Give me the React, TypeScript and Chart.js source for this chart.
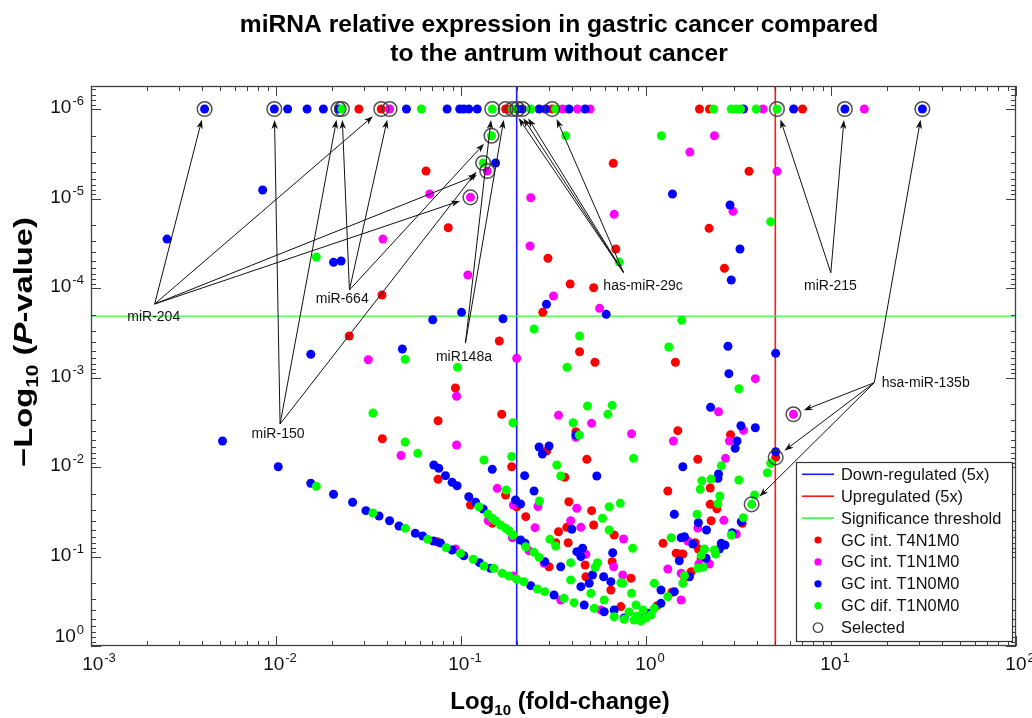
import React, { useEffect, useRef } from "react";
import { Chart, registerables } from "chart.js";

Chart.register(...registerables);

const FONT = '"Liberation Sans", Arial, Helvetica, sans-serif';

// Axis ranges (fold-change, P-value)
const X_MIN = 1e-3;
const X_MAX = 1e2;
const Y_MIN = 5.53e-7;
const Y_MAX = 1;

const DOWN_THRESHOLD = 0.2;
const UP_THRESHOLD = 5;
const SIG_THRESHOLD = 2.06e-4;

const xTickExponents = [-3, -2, -1, 0, 1, 2];
const yTickExponents = [-6, -5, -4, -3, -2, -1, 0];

const titleLines = [
  "miRNA relative expression in gastric cancer compared",
  "to the antrum without cancer",
];

// Each point: [log10(fold-change), log10(P-value)]
const t4n1m0Points: [number, number][] = [
  [-1.552, -6], [-1.431, -6], [-0.759, -6], [-0.741, -6], [-0.507, -6], [0.289, -6], [0.343, -6], [0.846, -6],
  [-1.189, -5.307], [-1.069, -4.674], [-0.53, -4.332], [-1.427, -3.922], [-0.558, -3.728], [-1.604, -3.464],
  [-0.793, -3.408], [-1.03, -2.883], [-1.124, -2.517], [-0.78, -2.589], [-1.425, -2.316], [-0.537, -2.179],
  [-1.129, -1.165], [-1.124, -1.863], [-0.949, -1.575], [-0.831, -1.371], [-0.726, -2.003], [-0.759, -1.687],
  [-0.699, -1.556], [-0.65, -1.445], [-0.524, -0.886], [-0.177, -5.393], [0.557, -5.304], [0.341, -4.667],
  [-0.163, -4.436], [0.424, -4.22], [-0.41, -4.045], [-0.283, -4.003], [-0.359, -3.288], [-0.276, -3.17],
  [0.159, -3.17], [0.172, -2.406], [0.457, -2.361], [-0.379, -2.394], [-0.32, -2.086], [0.28, -2.086],
  [-0.439, -1.885], [-0.417, -1.612], [-0.294, -1.512], [-0.428, -1.326], [-0.473, -1.277], [-0.283, -1.352],
  [-0.172, -1.24], [-0.488, -1.154], [-0.421, -1.154], [-0.329, -0.905], [-0.325, -0.774], [-0.183, -0.942],
  [-0.081, -0.757], [-0.19, -0.626], [0.118, -1.732], [0.347, -1.765], [0.347, -1.583], [0.383, -1.534],
  [0.352, -1.4], [0.52, -1.371], [0.092, -1.147], [0.266, -1.154], [0.163, -1.036], [0.18, -1.028],
  [0.199, -1.028], [0.283, -1.084], [0.298, -0.98], [0.701, -2.108], [-0.136, -0.44], [0.06, -0.45],
  [0.14, -0.6], [0.208, -0.774], [0.244, -0.83],
];

const t1n1m0Points: [number, number][] = [
  [-1.386, -6], [-0.451, -6], [-0.37, -6], [-0.302, -6], [0.633, -6], [1.18, -6],
  [-1.169, -5.05], [-0.623, -5.009], [-1.422, -4.547], [-0.627, -4.469], [-0.963, -4.145], [-1.501, -3.199],
  [-0.699, -3.214], [-1.024, -2.79], [-1.024, -2.246], [-1.324, -2.128], [0.37, -5.702], [0.237, -5.519],
  [0.708, -5.304], [-0.172, -4.823], [0.47, -4.857], [-0.5, -3.911], [-0.251, -3.773], [0.591, -2.987],
  [0.392, -2.618], [-0.473, -2.578], [-0.294, -2.488], [0.527, -2.41], [-0.379, -2.332], [-0.078, -2.372],
  [0.148, -2.291], [0.451, -2.291], [0.43, -2.097], [-0.804, -1.762], [-0.717, -1.575], [-0.584, -1.559],
  [-0.6, -1.322], [-0.374, -1.539], [-0.407, -1.4], [-0.352, -1.326], [-0.325, -1.025], [-0.175, -0.886],
  [-0.126, -0.793], [-0.121, -1.196], [0.421, -1.404], [0.28, -1.318], [0.488, -1.251], [0.226, -1.173],
  [0.286, -0.916], [0.343, -0.916], [0.118, -0.86], [0.19, -0.812], [-0.853, -1.4], [-0.722, -1.21],
  [-0.633, -1.065], [-0.551, -0.924], [-0.717, -0.782], [-1.03, -1.084], [0.797, -2.589], [-0.858, -5.307],
  [-0.949, -5.013], [-0.461, -0.514], [-0.244, -0.402], [-0.027, -0.313], [0.19, -0.514],
];

const t1n0m0Points: [number, number][] = [
  [-2.386, -6], [-2.009, -6], [-1.937, -6], [-1.832, -6], [-1.744, -6], [-1.662, -6], [-1.295, -6],
  [-1.075, -6], [-1.007, -6], [-0.985, -6], [-0.958, -6], [-0.912, -6], [-0.695, -6], [-0.668, -6],
  [-0.578, -6], [-0.542, -6], [-0.416, -6], [-0.329, -6], [0.527, -6], [0.798, -6], [1.075, -6], [1.494, -6],
  [-0.813, -5.397], [-2.072, -5.095], [-2.589, -4.547], [-1.689, -4.287], [-1.648, -4.302], [-0.997, -3.728],
  [-0.538, -3.818], [-1.153, -3.646], [-0.773, -3.657], [-1.317, -3.318], [-1.812, -3.259], [-2.289, -2.291],
  [-1.988, -2.003], [-0.578, -2.223], [-0.56, -2.145], [-0.524, -2.235], [-0.831, -1.974], [-0.656, -1.903],
  [-0.605, -1.732], [-0.705, -1.631], [-0.678, -1.587], [0.143, -5.05], [0.454, -4.927], [0.508, -4.436],
  [0.461, -4.089], [-0.215, -3.706], [0.443, -3.349], [0.701, -3.27], [0.448, -3.043], [0.349, -2.667],
  [0.513, -2.461], [0.591, -2.439], [-0.379, -2.357], [0.492, -2.291], [0.482, -2.209], [0.701, -2.171],
  [-0.266, -1.899], [0.199, -2.003], [0.392, -1.922], [0.389, -1.874], [0.153, -1.472], [0.283, -1.378],
  [0.327, -1.296], [0.466, -1.266], [0.19, -1.21], [0.208, -1.221], [0.253, -1.14], [0.427, -1.128],
  [0.397, -1.084], [0.18, -0.953], [0.081, -0.626], [-0.401, -1.304], [-0.343, -1.092], [-0.374, -1.054],
  [-0.352, -0.998], [-0.18, -1.042], [-0.229, -0.774], [-0.289, -0.793], [-0.307, -0.701], [-0.19, -0.719],
  [-1.812, -1.818], [-1.689, -1.695], [-1.586, -1.606], [-1.514, -1.512], [-1.443, -1.453], [-1.386, -1.4],
  [-1.335, -1.341], [-1.247, -1.259], [-1.207, -1.229], [-1.149, -1.173], [-1.111, -1.151], [-1.048, -1.073],
  [-0.985, -1.009], [-0.9, -0.931], [-0.84, -0.868], [-0.623, -0.674], [-0.497, -0.57], [-0.334, -0.458],
  [-0.226, -0.383], [-0.118, -0.313],
  [-1.147, -2.022], [-1.12, -1.985], [-1.084, -1.903], [-1.048, -1.829], [-1.021, -1.791], [-0.958, -1.668],
  [-0.921, -1.606], [-0.88, -1.531], [-0.678, -1.184], [-0.654, -1.148], [-0.547, -0.942], [-0.461, -0.886],
  [-0.352, -0.663], [-0.172, -0.402],
  [0.009, -0.365], [0.081, -0.477], [0.153, -0.607], [0.235, -0.774], [0.325, -0.98], [0.407, -1.147],
  [0.515, -1.389],
];

const difT1n0m0Points: [number, number][] = [
  [-1.644, -6], [-1.214, -6], [-0.831, -6], [-0.722, -6], [-0.623, -6], [-0.488, -6], [0.365, -6], [0.461, -6],
  [0.488, -6], [0.511, -6], [0.596, -6], [0.708, -6],
  [-0.835, -5.702], [-0.88, -5.397], [-1.782, -4.346], [-0.605, -3.542], [-1.302, -3.203], [-1.019, -3.114],
  [-1.476, -2.603], [-0.719, -2.495], [-1.302, -2.279], [-1.234, -2.153], [-0.876, -2.078], [-0.726, -2.117],
  [-0.434, -5.702], [0.083, -5.702], [-0.145, -4.29], [0.674, -4.741], [0.193, -3.639], [-0.359, -3.464],
  [0.123, -3.341], [-0.427, -3.114], [0.502, -2.875], [-0.316, -2.682], [-0.183, -2.689], [-0.206, -2.589],
  [-0.394, -2.495], [-0.361, -2.357], [-0.067, -2.097], [-0.482, -2.022], [-0.461, -1.899], [-0.755, -1.743],
  [-0.576, -1.62], [-0.199, -1.556], [-0.139, -1.594], [-0.235, -1.427], [-0.199, -1.296], [-0.072, -1.092],
  [-0.519, -1.192], [-0.488, -1.117], [-0.407, -0.931], [-0.262, -0.931], [-0.275, -0.879], [-0.126, -0.701],
  [-0.078, -0.589], [0.656, -1.936], [0.674, -2.041], [0.407, -2.015], [0.302, -1.847], [0.352, -1.866],
  [0.502, -1.855], [0.293, -1.751], [0.399, -1.676], [0.389, -1.59], [0.276, -1.472], [0.526, -1.434],
  [0.461, -1.24], [0.136, -1.21], [0.316, -1.084], [0.298, -1.013], [0.376, -1.028], [0.309, -0.879],
  [0.208, -0.785], [0.045, -0.701], [-0.136, -0.707], [0.571, -1.583], [0.587, -1.687],
  [-1.782, -1.784], [-1.476, -1.486], [-1.301, -1.315], [-1.18, -1.192], [-1.08, -1.098], [-1.003, -1.036],
  [-0.934, -0.969], [-0.876, -0.894], [-0.822, -0.868], [-0.777, -0.812], [-0.741, -0.782], [-0.699, -0.745],
  [-0.66, -0.718], [-0.587, -0.637], [-0.547, -0.607], [-0.443, -0.533], [-0.389, -0.484], [-0.28, -0.421],
  [-0.172, -0.327], [-0.118, -0.298], [-0.065, -0.291], [-0.027, -0.279],
  [-0.904, -1.556], [-0.855, -1.475], [-0.831, -1.427], [-0.813, -1.4], [-0.786, -1.352], [-0.759, -1.315],
  [-0.741, -1.288], [-0.719, -1.24], [-0.65, -1.109], [-0.605, -1.047], [-0.578, -0.991], [-0.407, -0.737],
  [-0.298, -0.589], [-0.226, -0.514],
  [0.045, -0.421], [0.118, -0.551], [0.199, -0.701], [0.28, -0.868], [0.37, -1.073], [0.027, -0.346],
  [0.0, -0.313], [-0.049, -0.335], [-0.092, -0.38], [-0.054, -0.458], [-0.016, -0.402],
];

const selectedPoints: [number, number][] = [
  [-2.386, -6], [-2.009, -6], [-1.662, -6], [-1.644, -6], [-1.431, -6], [-1.386, -6], [-0.831, -6],
  [-0.759, -6], [-0.722, -6], [-0.695, -6], [-0.668, -6], [-0.507, -6], [0.708, -6], [1.075, -6], [1.494, -6],
  [-0.835, -5.702], [-0.88, -5.397], [-0.858, -5.307], [-0.949, -5.013], [0.797, -2.589], [0.701, -2.108],
  [0.571, -1.583],
];

// Annotations: label, anchor (where arrows start), label centre, arrow targets (all in log10 units)
const annotationLabels = ["miR-204", "miR-664", "miR-150", "miR148a", "has-miR-29c", "miR-215", "hsa-miR-135b"];
const annotationAnchors: [number, number][] = [
  [-2.656, -3.821], [-1.603, -3.978], [-1.978, -2.48], [-0.976, -3.385], [-0.121, -4.171], [0.999, -4.171], [1.234, -2.942],
];
const annotationTextPos: [number, number][] = [
  [-2.661, -3.679], [-1.642, -3.877], [-1.989, -2.369], [-0.984, -3.232], [-0.016, -4.022], [0.997, -4.022], [1.512, -2.935],
];
const annotationTargets: [number, number][][] = [
  [[-2.386, -6], [-1.431, -6], [-0.858, -5.307], [-0.949, -5.013]],
  [[-1.644, -6], [-1.386, -6], [-0.835, -5.702]],
  [[-2.009, -6], [-1.662, -6], [-0.88, -5.397]],
  [[-0.831, -6], [-0.759, -6]],
  [[-0.722, -6], [-0.695, -6], [-0.668, -6], [-0.507, -6]],
  [[0.708, -6], [1.075, -6]],
  [[1.494, -6], [0.797, -2.589], [0.701, -2.108], [0.571, -1.583]],
];

const seriesLabels = ["GC int. T4N1M0", "GC int. T1N1M0", "GC int. T1N0M0", "GC dif. T1N0M0"];
const seriesColors = ["#ff0000", "#ff00ff", "#0000ff", "#00ff00"];
const lineLegend = [
  { label: "Down-regulated (5x)", color: "#1a1aff" },
  { label: "Upregulated (5x)", color: "#ff1a1a" },
  { label: "Significance threshold", color: "#33ff33" },
];

const toXY = (p: [number, number]) => ({ x: Math.pow(10, p[0]), y: Math.pow(10, p[1]) });

function drawPower(ctx: CanvasRenderingContext2D, exp: number, x: number, baseline: number, align: "center" | "right") {
  const base = "10";
  const sup = String(exp);
  ctx.font = `19px ${FONT}`;
  const wb = ctx.measureText(base).width;
  ctx.font = `13px ${FONT}`;
  const we = ctx.measureText(sup).width;
  const total = wb + 1 + we;
  const left = align === "center" ? x - total / 2 : x - total;
  ctx.textAlign = "left";
  ctx.textBaseline = "alphabetic";
  ctx.font = `19px ${FONT}`;
  ctx.fillText(base, left, baseline);
  ctx.font = `13px ${FONT}`;
  ctx.fillText(sup, left + wb + 1, baseline - 8);
}

type Piece = { t: string; font: string; dy: number };
function drawPieces(ctx: CanvasRenderingContext2D, pieces: Piece[], cx: number, baseline: number, targetWidth?: number) {
  let total = 0;
  const widths = pieces.map((p) => {
    ctx.font = p.font;
    const w = ctx.measureText(p.t).width;
    total += w;
    return w;
  });
  ctx.save();
  ctx.translate(cx, baseline);
  if (targetWidth) ctx.scale(targetWidth / total, 1);
  let x = -total / 2;
  ctx.textAlign = "left";
  ctx.textBaseline = "alphabetic";
  pieces.forEach((p, i) => {
    ctx.font = p.font;
    ctx.fillText(p.t, x, p.dy);
    x += widths[i];
  });
  ctx.restore();
}

const decorPlugin = {
  id: "volcanoDecor",
  beforeDatasetsDraw(chart: any) {
    const { ctx, chartArea: a, scales } = chart;
    const xs = scales.x;
    const ys = scales.y;
    ctx.save();
    ctx.beginPath();
    ctx.rect(a.left, a.top, a.right - a.left, a.bottom - a.top);
    ctx.clip();
    ctx.globalAlpha = 1;
    ctx.globalCompositeOperation = "source-over";
    ctx.setLineDash([]);
    ctx.lineWidth = 1.6;
    const xd = xs.getPixelForValue(DOWN_THRESHOLD);
    const xu = xs.getPixelForValue(UP_THRESHOLD);
    const ysig = ys.getPixelForValue(SIG_THRESHOLD);
    ctx.strokeStyle = lineLegend[0].color;
    ctx.beginPath(); ctx.moveTo(xd, a.top); ctx.lineTo(xd, a.bottom); ctx.stroke();
    ctx.strokeStyle = lineLegend[1].color;
    ctx.beginPath(); ctx.moveTo(xu, a.top); ctx.lineTo(xu, a.bottom); ctx.stroke();
    ctx.strokeStyle = lineLegend[2].color;
    ctx.lineWidth = 1.3;
    ctx.beginPath(); ctx.moveTo(a.left, ysig); ctx.lineTo(a.right, ysig); ctx.stroke();
    ctx.restore();
  },
  afterDatasetsDraw(chart: any) {
    const { ctx, chartArea: a, scales } = chart;
    const xs = scales.x;
    const ys = scales.y;
    const px = (v: number) => xs.getPixelForValue(Math.pow(10, v));
    const py = (v: number) => ys.getPixelForValue(Math.pow(10, v));
    ctx.save();

    // Annotations with arrows
    ctx.strokeStyle = "#111";
    ctx.fillStyle = "#111";
    ctx.lineWidth = 1;
    annotationAnchors.forEach((an, i) => {
      const ax = px(an[0]);
      const ay = py(an[1]);
      annotationTargets[i].forEach((t) => {
        const tx = px(t[0]);
        const ty = py(t[1]);
        const dx = tx - ax;
        const dy = ty - ay;
        const len = Math.hypot(dx, dy);
        const ux = dx / len;
        const uy = dy / len;
        const ex = tx - ux * 11;
        const ey = ty - uy * 11;
        ctx.beginPath();
        ctx.moveTo(ax, ay);
        ctx.lineTo(ex - ux * 4, ey - uy * 4);
        ctx.stroke();
        const bx = ex - ux * 9;
        const by = ey - uy * 9;
        ctx.beginPath();
        ctx.moveTo(ex, ey);
        ctx.lineTo(bx - uy * 3.2, by + ux * 3.2);
        ctx.lineTo(ex - ux * 6.5, ey - uy * 6.5);
        ctx.lineTo(bx + uy * 3.2, by - ux * 3.2);
        ctx.closePath();
        ctx.fill();
      });
      const lp = annotationTextPos[i];
      ctx.font = `14px ${FONT}`;
      ctx.textAlign = "center";
      ctx.textBaseline = "middle";
      ctx.fillText(annotationLabels[i], px(lp[0]), py(lp[1]));
    });

    // Frame with inward ticks
    ctx.strokeStyle = "#404040";
    ctx.lineWidth = 1.3;
    ctx.strokeRect(a.left + 0.5, a.top + 0.5, a.right - a.left - 1, a.bottom - a.top - 1);
    ctx.lineWidth = 1;
    ctx.beginPath();
    for (let d = -7; d <= 2; d++) {
      for (let m = 1; m <= 9; m++) {
        const v = m * Math.pow(10, d);
        if (v >= X_MIN * 0.999 && v <= X_MAX * 1.001) {
          const x = Math.round(xs.getPixelForValue(v)) + 0.5;
          const L = m === 1 ? 10 : 5;
          ctx.moveTo(x, a.bottom); ctx.lineTo(x, a.bottom - L);
          ctx.moveTo(x, a.top); ctx.lineTo(x, a.top + L);
        }
        if (v >= Y_MIN && v <= Y_MAX * 1.001) {
          const y = Math.round(ys.getPixelForValue(v)) + 0.5;
          const L = m === 1 ? 10 : 5;
          ctx.moveTo(a.left, y); ctx.lineTo(a.left + L, y);
          ctx.moveTo(a.right, y); ctx.lineTo(a.right - L, y);
        }
      }
    }
    ctx.stroke();

    // Legend box
    const lx = 796, ly = 462, lw = 216, lh = 179;
    ctx.fillStyle = "#ffffff";
    ctx.fillRect(lx, ly, lw, lh);
    ctx.strokeStyle = "#333";
    ctx.lineWidth = 1.2;
    ctx.strokeRect(lx + 0.5, ly + 0.5, lw, lh);
    const rowY = (k: number) => 474.3 + k * 21.9;
    ctx.font = `16.4px ${FONT}`;
    ctx.textAlign = "left";
    ctx.textBaseline = "middle";
    lineLegend.forEach((l, k) => {
      const y = rowY(k);
      ctx.strokeStyle = l.color;
      ctx.lineWidth = 1.6;
      ctx.beginPath(); ctx.moveTo(802, y); ctx.lineTo(834, y); ctx.stroke();
      ctx.fillStyle = "#111";
      ctx.fillText(l.label, 841, rowY(k) + 1);
    });
    seriesLabels.forEach((s, k) => {
      const y = rowY(k + 3);
      ctx.fillStyle = seriesColors[k];
      ctx.beginPath(); ctx.arc(818, y, 3.6, 0, Math.PI * 2); ctx.fill();
      ctx.fillStyle = "#111";
      ctx.fillText(s, 841, y + 1);
    });
    {
      const y = rowY(7);
      ctx.strokeStyle = "#444";
      ctx.lineWidth = 1.3;
      ctx.beginPath(); ctx.arc(818, y, 4.8, 0, Math.PI * 2); ctx.stroke();
      ctx.fillStyle = "#111";
      ctx.fillText("Selected", 841, y + 1);
    }

    // Tick labels
    ctx.fillStyle = "#111";
    xTickExponents.forEach((e) => {
      const x = xs.getPixelForValue(Math.pow(10, e));
      drawPower(ctx, e, e === -3 ? x + 8 : x + 4, 670, "center");
    });
    yTickExponents.forEach((e) => {
      const y = ys.getPixelForValue(Math.pow(10, e));
      drawPower(ctx, e, 84, e === 0 ? y - 4 : y + 4, "right");
    });

    // Title
    ctx.fillStyle = "#000";
    ctx.font = `bold 24.6px ${FONT}`;
    ctx.textAlign = "center";
    ctx.textBaseline = "alphabetic";
    ctx.fillText(titleLines[0], 559, 32);
    ctx.fillText(titleLines[1], 559, 61);

    // X axis title
    const B = `bold 24px ${FONT}`;
    const S = `bold 15px ${FONT}`;
    drawPieces(ctx, [
      { t: "Log", font: B, dy: 0 },
      { t: "10", font: S, dy: 6 },
      { t: " (fold-change)", font: B, dy: 0 },
    ], 560, 709);

    // Y axis title (rotated)
    const BY = `bold 25px ${FONT}`;
    const SY = `bold 16px ${FONT}`;
    ctx.save();
    ctx.translate(32, 342);
    ctx.rotate(-Math.PI / 2);
    drawPieces(ctx, [
      { t: "\u2212Log", font: BY, dy: 0 },
      { t: "10", font: SY, dy: 6 },
      { t: " (", font: BY, dy: 0 },
      { t: "P", font: `italic bold 25px ${FONT}`, dy: 0 },
      { t: "-value)", font: BY, dy: 0 },
    ], 0, 0, 250);
    ctx.restore();

    ctx.restore();
  },
};

export default function App() {
  const canvasRef = useRef<HTMLCanvasElement | null>(null);

  useEffect(() => {
    const canvas = canvasRef.current;
    if (!canvas) return;
    const pointStyle = (color: string) => ({
      pointRadius: 4.5,
      pointHoverRadius: 4.5,
      pointBackgroundColor: color,
      pointBorderWidth: 0,
      pointBorderColor: color,
      showLine: false,
    });
    const chart = new Chart(canvas, {
      type: "scatter",
      data: {
        datasets: [
          {
            label: "Selected",
            data: selectedPoints.map(toXY),
            pointRadius: 7.3,
            pointHoverRadius: 7.3,
            pointBackgroundColor: "rgba(0,0,0,0)",
            pointBorderColor: "rgba(60,60,60,0.9)",
            pointBorderWidth: 1.5,
            showLine: false,
            order: 0,
          } as any,
          { label: seriesLabels[3], data: difT1n0m0Points.map(toXY), ...pointStyle(seriesColors[3]), order: 1 } as any,
          { label: seriesLabels[2], data: t1n0m0Points.map(toXY), ...pointStyle(seriesColors[2]), order: 2 } as any,
          { label: seriesLabels[1], data: t1n1m0Points.map(toXY), ...pointStyle(seriesColors[1]), order: 3 } as any,
          { label: seriesLabels[0], data: t4n1m0Points.map(toXY), ...pointStyle(seriesColors[0]), order: 4 } as any,
        ],
      },
      options: {
        animation: false,
        responsive: false,
        events: [],
        layout: { padding: { left: 91, right: 16, top: 86, bottom: 72 } },
        plugins: { legend: { display: false }, tooltip: { enabled: false }, title: { display: false } },
        scales: {
          x: { type: "logarithmic", min: X_MIN, max: X_MAX, display: false },
          y: { type: "logarithmic", min: Y_MIN, max: Y_MAX, reverse: true, display: false },
        },
      } as any,
      plugins: [decorPlugin as any],
    });
    return () => chart.destroy();
  }, []);

  return (
    <div style={{ position: "fixed", left: 0, top: 0, width: 1032, height: 718, background: "#fff" }}>
      <canvas ref={canvasRef} width={1032} height={718} style={{ display: "block" }} />
    </div>
  );
}
